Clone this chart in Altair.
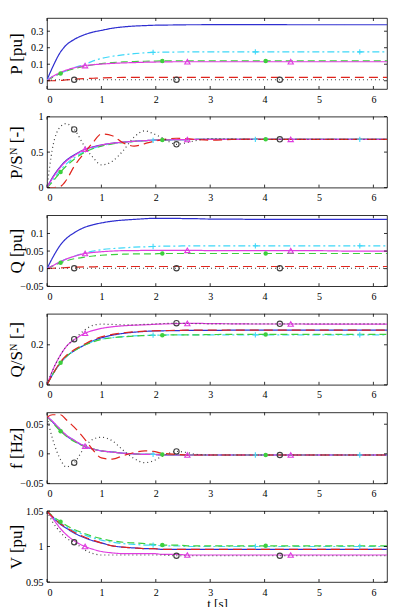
import altair as alt
import pandas as pd

# Simulation time stamps [s]
T = [0.0, 0.1, 0.25, 0.35, 0.5, 0.7, 0.85, 1.0, 1.2, 1.4, 1.6, 1.8,
     1.95, 2.12, 2.38, 2.58, 2.75, 3.0, 3.4, 3.83, 4.02, 4.28, 4.48, 4.65, 5.0, 5.5, 5.75, 6.0, 6.25]

X_TICKS = [0, 1, 2, 3, 4, 5, 6]

# Active power P [pu]
p_blue = [0.005, 0.08, 0.175, 0.215, 0.25, 0.28, 0.295, 0.305, 0.318, 0.326, 0.331, 0.334,
          0.336, 0.337, 0.338, 0.339, 0.339, 0.340, 0.340, 0.340, 0.340, 0.340, 0.339, 0.339, 0.339, 0.339, 0.339, 0.339, 0.339]
p_cyan = [0.005, 0.025, 0.045, 0.06, 0.08, 0.10, 0.12, 0.135, 0.148, 0.157, 0.164, 0.169,
          0.172, 0.173, 0.174, 0.175, 0.175, 0.175, 0.175, 0.175, 0.175, 0.175, 0.175, 0.175, 0.175, 0.175, 0.175, 0.175, 0.175]
p_green = [0.0, 0.02, 0.044, 0.058, 0.073, 0.088, 0.097, 0.104, 0.110, 0.114, 0.116, 0.118,
           0.119, 0.120, 0.120, 0.120, 0.120, 0.120, 0.120, 0.120, 0.120, 0.120, 0.120, 0.120, 0.120, 0.120, 0.120, 0.120, 0.120]
p_magenta = [0.0, 0.025, 0.05, 0.064, 0.078, 0.092, 0.097, 0.101, 0.105, 0.108, 0.110, 0.112,
             0.113, 0.114, 0.115, 0.115, 0.115, 0.115, 0.115, 0.115, 0.115, 0.115, 0.115, 0.115, 0.115, 0.115, 0.115, 0.115, 0.115]
p_red = [0.0, 0.0, 0.002, 0.005, 0.009, 0.013, 0.015, 0.017, 0.019, 0.020, 0.020, 0.020,
         0.020, 0.020, 0.020, 0.020, 0.020, 0.020, 0.020, 0.020, 0.020, 0.020, 0.020, 0.020, 0.020, 0.020, 0.020, 0.020, 0.020]
p_black = [0.0, 0.004, 0.006, 0.006, 0.006, 0.006, 0.006, 0.006, 0.006, 0.006, 0.006, 0.006,
           0.006, 0.006, 0.006, 0.006, 0.006, 0.006, 0.006, 0.006, 0.006, 0.006, 0.006, 0.006, 0.006, 0.006, 0.006, 0.006, 0.006]

# Active power relative to rated power P/S^N [-]
psn_blue = [0.0, 0.14, 0.30, 0.38, 0.46, 0.54, 0.575, 0.60, 0.625, 0.64, 0.652, 0.662,
            0.667, 0.671, 0.675, 0.677, 0.678, 0.679, 0.68, 0.68, 0.68, 0.68, 0.68, 0.68, 0.68, 0.68, 0.68, 0.68, 0.68]
psn_cyan = [0.0, 0.10, 0.25, 0.33, 0.42, 0.51, 0.555, 0.59, 0.62, 0.638, 0.65, 0.66,
            0.666, 0.670, 0.674, 0.677, 0.678, 0.679, 0.68, 0.68, 0.68, 0.68, 0.68, 0.68, 0.68, 0.68, 0.68, 0.68, 0.68]
psn_green = [0.0, 0.08, 0.22, 0.30, 0.40, 0.50, 0.55, 0.585, 0.615, 0.635, 0.65, 0.66,
             0.665, 0.670, 0.674, 0.677, 0.678, 0.679, 0.68, 0.68, 0.68, 0.68, 0.68, 0.68, 0.68, 0.68, 0.68, 0.68, 0.68]
psn_magenta = [0.0, 0.13, 0.29, 0.37, 0.45, 0.54, 0.57, 0.60, 0.625, 0.64, 0.652, 0.662,
               0.667, 0.671, 0.675, 0.677, 0.678, 0.679, 0.68, 0.68, 0.68, 0.68, 0.68, 0.68, 0.68, 0.68, 0.68, 0.68, 0.68]
psn_red = [0.0, 0.0, 0.02, 0.10, 0.30, 0.50, 0.64, 0.755, 0.73, 0.63, 0.585, 0.62,
           0.65, 0.675, 0.695, 0.69, 0.678, 0.668, 0.678, 0.682, 0.68, 0.68, 0.68, 0.68, 0.68, 0.68, 0.68, 0.68, 0.68]
psn_black = [0.0, 0.55, 0.86, 0.90, 0.82, 0.57, 0.42, 0.32, 0.37, 0.52, 0.71, 0.80,
             0.76, 0.70, 0.61, 0.635, 0.665, 0.69, 0.685, 0.68, 0.68, 0.68, 0.68, 0.68, 0.68, 0.68, 0.68, 0.68, 0.68]

# Reactive power Q [pu]
q_blue = [0.0, 0.03, 0.068, 0.085, 0.102, 0.118, 0.125, 0.130, 0.135, 0.138, 0.140, 0.142,
          0.143, 0.143, 0.143, 0.142, 0.142, 0.141, 0.141, 0.140, 0.140, 0.140, 0.140, 0.140, 0.140, 0.140, 0.140, 0.140, 0.140]
q_cyan = [0.0, 0.008, 0.02, 0.027, 0.035, 0.045, 0.05, 0.054, 0.057, 0.059, 0.061, 0.062,
          0.063, 0.064, 0.064, 0.065, 0.065, 0.065, 0.065, 0.065, 0.065, 0.065, 0.065, 0.065, 0.065, 0.065, 0.065, 0.065, 0.065]
q_green = [0.0, 0.007, 0.017, 0.022, 0.028, 0.033, 0.036, 0.038, 0.040, 0.041, 0.042, 0.042,
           0.042, 0.043, 0.043, 0.043, 0.043, 0.043, 0.043, 0.043, 0.043, 0.043, 0.043, 0.043, 0.043, 0.043, 0.043, 0.043, 0.043]
q_magenta = [0.0, 0.008, 0.02, 0.027, 0.035, 0.043, 0.046, 0.048, 0.050, 0.051, 0.051, 0.052,
             0.052, 0.052, 0.052, 0.052, 0.052, 0.051, 0.051, 0.051, 0.051, 0.051, 0.051, 0.051, 0.051, 0.050, 0.050, 0.050, 0.050]
q_red = [0.0, 0.001, 0.002, 0.003, 0.004, 0.005, 0.005, 0.006, 0.006, 0.006, 0.006, 0.006,
         0.006, 0.006, 0.006, 0.006, 0.006, 0.006, 0.006, 0.006, 0.006, 0.006, 0.006, 0.006, 0.006, 0.006, 0.006, 0.006, 0.006]
q_black = [0.0, 0.001, 0.001, 0.001, 0.001, 0.001, 0.001, 0.001, 0.001, 0.001, 0.001, 0.001,
           0.001, 0.001, 0.001, 0.001, 0.001, 0.001, 0.001, 0.001, 0.001, 0.001, 0.001, 0.001, 0.001, 0.001, 0.001, 0.001, 0.001]

# Reactive power relative to rated power Q/S^N [-]
qsn_blue = [0.0, 0.05, 0.11, 0.14, 0.17, 0.20, 0.22, 0.235, 0.248, 0.257, 0.263, 0.267,
            0.269, 0.270, 0.271, 0.272, 0.272, 0.272, 0.273, 0.273, 0.273, 0.273, 0.273, 0.273, 0.273, 0.273, 0.273, 0.273, 0.273]
qsn_cyan = [0.0, 0.05, 0.11, 0.14, 0.17, 0.20, 0.218, 0.228, 0.236, 0.241, 0.245, 0.247,
            0.248, 0.249, 0.250, 0.250, 0.250, 0.250, 0.250, 0.250, 0.250, 0.250, 0.250, 0.250, 0.250, 0.250, 0.250, 0.250, 0.250]
qsn_green = [0.0, 0.05, 0.11, 0.14, 0.17, 0.20, 0.215, 0.227, 0.235, 0.240, 0.244, 0.246,
             0.247, 0.248, 0.250, 0.250, 0.250, 0.251, 0.252, 0.252, 0.252, 0.252, 0.252, 0.252, 0.252, 0.252, 0.252, 0.252, 0.252]
qsn_magenta = [0.0, 0.07, 0.15, 0.19, 0.225, 0.258, 0.272, 0.282, 0.290, 0.295, 0.298, 0.300,
               0.302, 0.304, 0.306, 0.307, 0.307, 0.306, 0.305, 0.304, 0.304, 0.304, 0.304, 0.304, 0.303, 0.303, 0.303, 0.303, 0.303]
qsn_red = [0.0, 0.05, 0.115, 0.145, 0.175, 0.205, 0.225, 0.240, 0.252, 0.260, 0.265, 0.268,
           0.270, 0.271, 0.272, 0.273, 0.273, 0.273, 0.273, 0.273, 0.273, 0.273, 0.273, 0.273, 0.273, 0.273, 0.273, 0.273, 0.273]
qsn_black = [0.0, 0.07, 0.15, 0.19, 0.228, 0.275, 0.298, 0.303, 0.302, 0.300, 0.300, 0.302,
             0.304, 0.306, 0.308, 0.307, 0.306, 0.305, 0.305, 0.305, 0.305, 0.305, 0.305, 0.305, 0.305, 0.305, 0.305, 0.305, 0.305]

# Frequency deviation f [Hz]
f_blue = [0.063, 0.054, 0.040, 0.031, 0.022, 0.012, 0.008, 0.005, 0.003, 0.001, 0.0, -0.001,
          -0.001, -0.002, -0.002, -0.002, -0.002, -0.002, -0.002, -0.002, -0.002, -0.002, -0.002, -0.002, -0.002, -0.002, -0.002, -0.002, -0.002]
f_cyan = [0.063, 0.055, 0.041, 0.032, 0.023, 0.013, 0.008, 0.005, 0.003, 0.001, 0.0, -0.001,
          -0.001, -0.002, -0.002, -0.002, -0.002, -0.002, -0.002, -0.002, -0.002, -0.002, -0.002, -0.002, -0.002, -0.002, -0.002, -0.002, -0.002]
f_green = [0.063, 0.053, 0.038, 0.030, 0.021, 0.012, 0.008, 0.005, 0.003, 0.001, 0.0, -0.001,
           -0.001, -0.001, -0.002, -0.002, -0.002, -0.002, -0.002, -0.002, -0.002, -0.002, -0.002, -0.002, -0.002, -0.002, -0.002, -0.002, -0.002]
f_magenta = [0.063, 0.055, 0.041, 0.032, 0.023, 0.013, 0.008, 0.005, 0.003, 0.001, 0.0, -0.001,
             -0.001, -0.002, -0.002, -0.002, -0.002, -0.002, -0.002, -0.002, -0.002, -0.002, -0.002, -0.002, -0.002, -0.002, -0.002, -0.002, -0.002]
f_red = [0.062, 0.066, 0.066, 0.058, 0.045, 0.024, 0.006, -0.007, -0.009, -0.003, 0.002, 0.005,
         0.004, 0.001, -0.001, -0.002, -0.002, -0.002, -0.002, -0.002, -0.002, -0.002, -0.002, -0.002, -0.002, -0.002, -0.002, -0.002, -0.002]
f_black = [0.062, 0.026, -0.010, -0.022, -0.015, 0.012, 0.025, 0.028, 0.022, 0.006, -0.008, -0.015,
           -0.012, -0.004, 0.004, 0.002, -0.001, -0.002, -0.002, -0.002, -0.002, -0.002, -0.002, -0.002, -0.002, -0.002, -0.002, -0.002, -0.002]

# Terminal voltage V [pu]
v_blue = [1.05, 1.042, 1.031, 1.026, 1.019, 1.012, 1.008, 1.005, 1.001, 0.999, 0.998, 0.997,
          0.997, 0.996, 0.996, 0.996, 0.996, 0.996, 0.996, 0.996, 0.996, 0.996, 0.996, 0.996, 0.996, 0.996, 0.996, 0.996, 0.996]
v_cyan = [1.05, 1.042, 1.033, 1.028, 1.022, 1.016, 1.012, 1.009, 1.006, 1.004, 1.003, 1.002,
          1.002, 1.001, 1.001, 1.000, 1.000, 1.000, 1.000, 1.000, 1.000, 1.000, 1.000, 1.000, 1.000, 1.000, 1.000, 1.000, 1.000]
v_green = [1.05, 1.043, 1.035, 1.030, 1.024, 1.018, 1.014, 1.011, 1.008, 1.006, 1.005, 1.004,
           1.003, 1.002, 1.002, 1.001, 1.001, 1.001, 1.001, 1.001, 1.001, 1.001, 1.001, 1.001, 1.001, 1.001, 1.001, 1.001, 1.001]
v_magenta = [1.05, 1.040, 1.025, 1.017, 1.008, 1.000, 0.996, 0.993, 0.991, 0.990, 0.990, 0.990,
             0.990, 0.989, 0.989, 0.988, 0.988, 0.988, 0.988, 0.988, 0.988, 0.988, 0.988, 0.988, 0.988, 0.988, 0.988, 0.988, 0.988]
v_red = [1.05, 1.042, 1.032, 1.027, 1.020, 1.013, 1.009, 1.005, 1.001, 0.999, 0.998, 0.997,
         0.997, 0.996, 0.996, 0.996, 0.996, 0.996, 0.996, 0.996, 0.996, 0.996, 0.996, 0.996, 0.996, 0.996, 0.996, 0.996, 0.996]
v_black = [1.05, 1.035, 1.020, 1.012, 1.006, 0.995, 0.990, 0.988, 0.988, 0.988, 0.988, 0.988,
           0.988, 0.988, 0.987, 0.987, 0.987, 0.987, 0.987, 0.987, 0.987, 0.987, 0.987, 0.987, 0.987, 0.987, 0.987, 0.987, 0.987]

# Series styling
SERIES = ["blue", "cyan", "green", "magenta", "red", "black"]
COLORS = ["#2f2fd0", "#3fd8f8", "#3dcf3d", "#e03ce0", "#e0241c", "#404040"]
DASHES = [[1, 0], [7, 3, 2, 3], [7, 4], [1, 0], [9, 5], [1, 3]]
WIDTHS = [1.2, 1.2, 1.3, 1.2, 1.8, 1.1]

# Marker positions along each series
MARK_T = {
    "cyan": [1.95, 3.83, 5.75],
    "green": [0.25, 2.12, 4.02],
    "magenta": [0.7, 2.58, 4.48],
    "black": [0.5, 2.38, 4.28],
}
OPEN_SHAPES = {"cyan": "M-1,0L1,0M0,-1L0,1", "magenta": "triangle-up", "black": "circle"}

FONT = "Liberation Serif"
W, H = 340, 71


def panel(values, title, ydomain, yticks, xtitle=None):
    rows = []
    for s in SERIES:
        for t, v in zip(T, values[s]):
            rows.append({"t": t, "v": v, "s": s})
    df = pd.DataFrame(rows)

    mrows = []
    for s, times in MARK_T.items():
        for mt in times:
            mrows.append({"t": mt, "v": values[s][T.index(mt)], "s": s})
    mdf = pd.DataFrame(mrows)

    xs = alt.Scale(domain=[0, 6.25], nice=False, zero=False)
    ys = alt.Scale(domain=ydomain, nice=False, zero=False)
    color = alt.Color("s:N", scale=alt.Scale(domain=SERIES, range=COLORS), legend=None)

    x_axis = alt.Axis(values=X_TICKS, tickSize=0, domain=False, grid=False,
                      labelPadding=5, format="~g", title=xtitle,
                      titleY=25, titleBaseline="alphabetic", titleFontSize=13)
    y_axis = alt.Axis(values=yticks, tickSize=0, domain=False, grid=False,
                      labelPadding=4, format="~g", title=title,
                      titleX=-22, titleY=H / 2, titleBaseline="bottom")
    X = alt.X("t:Q", scale=xs, axis=x_axis)
    Y = alt.Y("v:Q", scale=ys, axis=y_axis)

    lines = alt.Chart(df).mark_line(interpolate="monotone", clip=True).encode(
        x=X, y=Y, color=color,
        strokeDash=alt.StrokeDash("s:N", scale=alt.Scale(domain=SERIES, range=DASHES), legend=None),
        strokeWidth=alt.StrokeWidth("s:N", scale=alt.Scale(domain=SERIES, range=WIDTHS), legend=None),
    )

    open_df = mdf[mdf["s"] != "green"]
    open_marks = alt.Chart(open_df).mark_point(filled=False, size=28, strokeWidth=1.1, opacity=1).encode(
        x=X, y=Y, color=color,
        shape=alt.Shape("s:N", scale=alt.Scale(domain=list(OPEN_SHAPES.keys()),
                                               range=list(OPEN_SHAPES.values())), legend=None),
    )
    filled_marks = alt.Chart(mdf[mdf["s"] == "green"]).mark_point(
        filled=True, size=20, shape="circle", opacity=1).encode(x=X, y=Y, color=color)

    # inward ticks on all four sides of the frame
    xt = pd.DataFrame({"t": X_TICKS})
    yt = pd.DataFrame({"v": yticks})
    tick_style = dict(color="black", strokeWidth=0.8)
    xb = alt.Chart(xt).mark_rule(**tick_style).encode(x=X, y=alt.value(H), y2=alt.value(H - 3))
    xtop = alt.Chart(xt).mark_rule(**tick_style).encode(x=X, y=alt.value(0), y2=alt.value(3))
    yl = alt.Chart(yt).mark_rule(**tick_style).encode(y=Y, x=alt.value(0), x2=alt.value(3))
    yr = alt.Chart(yt).mark_rule(**tick_style).encode(y=Y, x=alt.value(W - 3), x2=alt.value(W))

    return alt.layer(lines, open_marks, filled_marks, xb, xtop, yl, yr).properties(width=W, height=H)


def pack(b, c, g, m, r, k):
    return {"blue": b, "cyan": c, "green": g, "magenta": m, "red": r, "black": k}


panels = [
    panel(pack(p_blue, p_cyan, p_green, p_magenta, p_red, p_black),
          "P [pu]", [-0.05, 0.38], [0, 0.1, 0.2, 0.3]),
    panel(pack(psn_blue, psn_cyan, psn_green, psn_magenta, psn_red, psn_black),
          "P/Sᴺ [-]", [0, 1.0], [0, 0.5, 1]),
    panel(pack(q_blue, q_cyan, q_green, q_magenta, q_red, q_black),
          "Q [pu]", [-0.05, 0.152], [-0.05, 0, 0.05, 0.1]),
    panel(pack(qsn_blue, qsn_cyan, qsn_green, qsn_magenta, qsn_red, qsn_black),
          "Q/Sᴺ [-]", [0, 0.355], [0, 0.2]),
    panel(pack(f_blue, f_cyan, f_green, f_magenta, f_red, f_black),
          "f [Hz]", [-0.05, 0.07], [-0.05, 0, 0.05]),
    panel(pack(v_blue, v_cyan, v_green, v_magenta, v_red, v_black),
          "V [pu]", [0.95, 1.05], [0.95, 1, 1.05], xtitle="t [s]"),
]

chart = alt.vconcat(*panels, spacing=27.6, bounds="flush").properties(
    padding={"left": 6, "top": 17, "right": 6, "bottom": 0}
).configure_view(
    stroke="black", strokeWidth=0.8
).configure_axis(
    labelFont=FONT, titleFont=FONT, labelFontSize=10, titleFontSize=17,
    labelColor="black", titleColor="black", titleFontWeight="normal"
)

chart.save("out.html", embed_options={"renderer": "svg", "actions": False})
